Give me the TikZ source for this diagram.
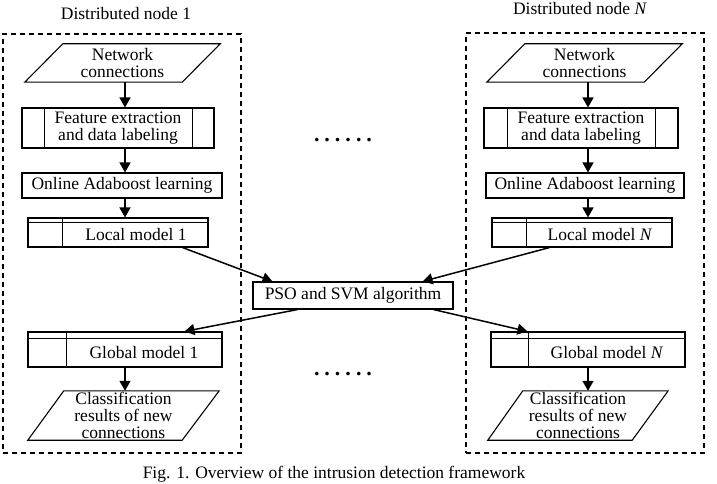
\documentclass[tikz,border=0pt]{standalone}
\usepackage{fontspec}
\setmainfont{Liberation Serif}
\usetikzlibrary{arrows.meta,calc}
\begin{document}
\begin{tikzpicture}[x=1pt,y=-1pt,
  every node/.style={font=\fontsize{17.5}{16.8}\selectfont, align=center, inner sep=0pt},
  box/.style={draw, line width=1.1pt, minimum width=#1},
  frame/.style={draw, dashed, dash pattern=on 5pt off 4pt, line width=1.1pt},
  arr/.style={line width=1.5pt, -{Triangle[length=10pt,width=11pt]}},
  shp/.style={line width=1.1pt}]
\useasboundingbox (0,0) rectangle (717,484);

% dashed frames
\node[frame, minimum width=238pt, minimum height=419pt] (d1) at (122,243.5) {};
\node[frame, minimum width=238pt, minimum height=420pt] (dN) at (585,243) {};
\node (t1) at (126,14) {Distributed node 1};
\node (tN) at (580,9) {Distributed node \textit{N}};

% column x positions
\coordinate (c1) at (125,0);
\coordinate (cN) at (588,0);

% ---------- left column ----------
\node[minimum width=195pt, minimum height=38pt] (net1) at (122.5,63) {Network\\connections};
\draw[shp] (net1.south west) -- ($(net1.north west)+(38,0)$) -- (net1.north east) -- ($(net1.south east)+(-38,0)$) -- cycle;

\node[box=192pt, minimum height=40pt] (fe1) at (118,128) {Feature extraction\\and data labeling};
\draw[shp] ($(fe1.north west)+(23,0)$) -- ($(fe1.south west)+(23,0)$);
\draw[shp] ($(fe1.north east)+(-22,0)$) -- ($(fe1.south east)+(-22,0)$);

\node[box=200pt, minimum height=25pt] (oa1) at (122,185.5) {Online Adaboost learning};

\node[box=180pt, minimum height=29pt] (lm1) at (118,232.5) {};
\draw[shp] ($(lm1.north west)+(0,5)$) -- ($(lm1.north east)+(0,5)$);
\draw[shp] ($(lm1.north west)+(35,0)$) -- ($(lm1.south west)+(35,0)$);
\node (lm1t) at (136,235) {Local model 1};

\node[box=194pt, minimum height=35pt] (gm1) at (125,349.5) {};
\draw[shp] ($(gm1.north west)+(0,7)$) -- ($(gm1.north east)+(0,7)$);
\draw[shp] ($(gm1.north west)+(39,0)$) -- ($(gm1.south west)+(39,0)$);
\node (gm1t) at (144,353) {Global model 1};

\node[minimum width=191pt, minimum height=49pt] (cl1) at (123.5,415.5) {Classification\\results of new\\connections};
\draw[shp] (cl1.south west) -- ($(cl1.north west)+(36,0)$) -- (cl1.north east) -- ($(cl1.south east)+(-37,0)$) -- cycle;

% ---------- right column ----------
\node[minimum width=195pt, minimum height=38pt] (netN) at (584.5,63) {Network\\connections};
\draw[shp] (netN.south west) -- ($(netN.north west)+(38,0)$) -- (netN.north east) -- ($(netN.south east)+(-38,0)$) -- cycle;

\node[box=194pt, minimum height=40pt] (feN) at (581,128) {Feature extraction\\and data labeling};
\draw[shp] ($(feN.north west)+(24,0)$) -- ($(feN.south west)+(24,0)$);
\draw[shp] ($(feN.north east)+(-23,0)$) -- ($(feN.south east)+(-23,0)$);

\node[box=198pt, minimum height=25pt] (oaN) at (585,185.5) {Online Adaboost learning};

\node[box=180pt, minimum height=29pt] (lmN) at (582,232.5) {};
\draw[shp] ($(lmN.north west)+(0,5)$) -- ($(lmN.north east)+(0,5)$);
\draw[shp] ($(lmN.north west)+(35,0)$) -- ($(lmN.south west)+(35,0)$);
\node (lmNt) at (600,235) {Local model \textit{N}};

\node[box=194pt, minimum height=35pt] (gmN) at (588,349.5) {};
\draw[shp] ($(gmN.north west)+(0,7)$) -- ($(gmN.north east)+(0,7)$);
\draw[shp] ($(gmN.north west)+(38,0)$) -- ($(gmN.south west)+(38,0)$);
\node (gmNt) at (607,353) {Global model \textit{N}};

\node[minimum width=180pt, minimum height=49pt] (clN) at (578,415.5) {Classification\\results of new\\connections};
\draw[shp] (clN.south west) -- ($(clN.north west)+(35,0)$) -- (clN.north east) -- ($(clN.south east)+(-36,0)$) -- cycle;

% ---------- centre ----------
\node[box=200pt, minimum height=27pt] (pso) at (353,295.5) {PSO and SVM algorithm};
\node[font=\fontsize{22}{22}\selectfont\bfseries] (dots1) at (343,140) {\makebox[58pt]{.\hfill.\hfill.\hfill.\hfill.\hfill.}};
\node[font=\fontsize{22}{22}\selectfont\bfseries] (dots2) at (343,374) {\makebox[58pt]{.\hfill.\hfill.\hfill.\hfill.\hfill.}};

\node (cap) at (334,474) {Fig. 1. Overview of the intrusion detection framework};

% ---------- arrows ----------
\draw[arr] (net1.south -| c1) -- (fe1.north -| c1);
\draw[arr] (fe1.south -| c1) -- (oa1.north -| c1);
\draw[arr] (oa1.south -| c1) -- (lm1.north -| c1);
\draw[arr] (gm1.south -| c1) -- (cl1.north -| c1);

\draw[arr] (netN.south -| cN) -- (feN.north -| cN);
\draw[arr] (feN.south -| cN) -- (oaN.north -| cN);
\draw[arr] (oaN.south -| cN) -- (lmN.north -| cN);
\draw[arr] (gmN.south -| cN) -- (clN.north -| cN);

\draw[arr] ($(lm1.south east)+(-26,0)$) -- ($(pso.north west)+(20,0)$);
\draw[arr] ($(lmN.south west)+(58,0)$) -- ($(pso.north east)+(-31,0)$);
\draw[arr] ($(pso.south west)+(45,0)$) -- ($(gm1.north west)+(157,0)$);
\draw[arr] ($(pso.south east)+(-20,0)$) -- ($(gmN.north west)+(37,0)$);
\end{tikzpicture}
\end{document}
